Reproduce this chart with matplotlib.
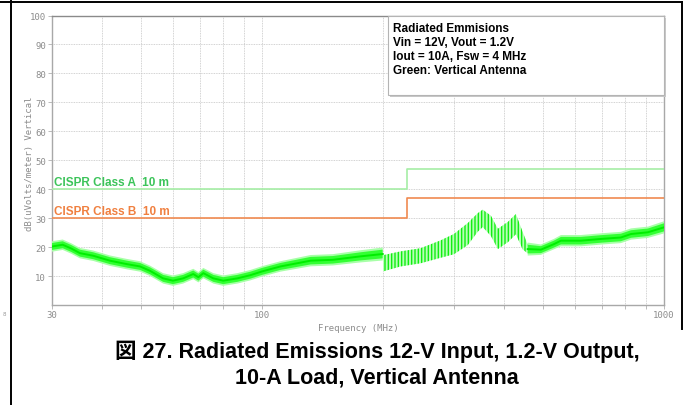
import numpy as np
import matplotlib
matplotlib.use('Agg')
import matplotlib.pyplot as plt
from matplotlib.lines import Line2D
from matplotlib.patches import Rectangle
from matplotlib.ticker import FixedLocator, NullFormatter

# measured trace (MHz, dBuV/m), centre of the noisy band and its half width
freq = [30, 31.9, 33.5, 35.2, 38, 41.8, 46.1, 49.7, 52.6, 56.7, 60, 63.6, 67.4, 69.4,
        71.4, 75.6, 80, 86.8, 93.5, 100, 111, 132, 150, 176, 199.5,
        200, 221, 248, 278, 300, 325, 344, 354, 371, 386, 409, 428, 445, 458,
        494, 532, 554, 621, 697, 781, 828, 912, 1000]
level = [20.3, 20.9, 19.6, 18.0, 17.1, 15.4, 14.2, 13.4, 11.9, 9.3, 8.5, 9.3, 10.8, 9.7,
         11.1, 9.3, 8.5, 9.3, 10.4, 11.7, 13.4, 15.4, 15.7, 16.9, 17.7,
         14.5, 16.0, 17.1, 19.4, 21.1, 24.6, 28.6, 30.0, 27.4, 22.9, 25.3, 28.0, 22.3, 19.4,
         19.2, 21.1, 22.3, 22.3, 22.9, 23.4, 24.6, 25.2, 26.9]
spread = [1.2, 1.2, 1.2, 1.2, 1.2, 1.2, 1.2, 1.2, 1.2, 1.2, 1.2, 1.2, 1.2, 1.2,
          1.2, 1.2, 1.2, 1.2, 1.2, 1.2, 1.2, 1.3, 1.3, 1.4, 1.5,
          2.8, 2.6, 2.6, 3.0, 3.5, 3.8, 3.2, 3.0, 3.5, 3.5, 3.5, 3.5, 3.0, 1.5,
          1.2, 1.2, 1.3, 1.3, 1.3, 1.3, 1.3, 1.3, 1.4]

# CISPR 22 limits at 10 m
lim_freq = [30, 230, 230, 1000]
class_a = [40, 40, 47, 47]
class_b = [30, 30, 37, 37]

y_ticks = [10, 20, 30, 40, 50, 60, 70, 80, 90, 100]
x_major = [30, 100, 1000]
x_minor = [40, 50, 60, 70, 80, 90, 200, 300, 400, 500, 600, 700, 800, 900]

note_lines = ["Radiated Emmisions", "Vin = 12V, Vout = 1.2V",
              "Iout = 10A, Fsw = 4 MHz", "Green: Vertical Antenna"]
caption = ["図 27. Radiated Emissions 12-V Input, 1.2-V Output,",
           "10-A Load, Vertical Antenna"]

W, H = 684, 406
fig = plt.figure(figsize=(6.84, 4.06), dpi=100)


def fx(px):
    return px / W


def fy(py):
    return 1 - py / H


ax = fig.add_axes([fx(52), fy(306.3), fx(664) - fx(52), fy(16.5) - fy(306.3)])
ax.set_xscale('log')
ax.set_xlim(30, 1000)
ax.set_ylim(0, 100)

grey = '#8c8c8c'
mono = 'DejaVu Sans Mono'

ax.xaxis.set_major_locator(FixedLocator(x_major))
ax.xaxis.set_minor_locator(FixedLocator(x_minor))
ax.xaxis.set_minor_formatter(NullFormatter())
ax.set_xticklabels([str(v) for v in x_major], fontsize=6.5, family=mono, color=grey)
ax.set_yticks(y_ticks)
ax.set_yticklabels([str(v) for v in y_ticks], fontsize=6.5, family=mono, color=grey)
ax.tick_params(which='both', direction='out', length=3, width=0.6, color='#b0b0b0', pad=0.5)
ax.tick_params(axis='y', length=3, pad=1.5)

ax.grid(True, which='both', color='#c4c4c4', ls=(0, (1, 1)), lw=0.6)
for s in ax.spines.values():
    s.set_color('#a8a8a8')
    s.set_linewidth(1.0)
ax.spines['top'].set_color('#8a8a8a')

ax.set_xlabel('Frequency (MHz)', fontsize=6.5, family=mono, color=grey)
ax.set_ylabel('dB(uVolts/meter) Vertical', fontsize=6.5, family=mono, color=grey)
ax.xaxis.set_label_coords(0.5, -0.061)
ax.yaxis.set_label_coords(-0.03, 0.49)

ax.plot(lim_freq, class_a, color='#a6eea6', lw=1.2, zorder=3)
ax.plot(lim_freq, class_b, color='#f08a50', lw=1.2, zorder=3)

f = np.array(freq)
lv = np.array(level)
sp = np.array(spread)
osc = (f >= 200) & (f <= 458)
rest = ~osc | (f == 458)
plt.rcParams['hatch.linewidth'] = 1.0
# light fringe, solid core, hatched band where the trace oscillates
ax.fill_between(f, lv - 1.5 * sp, lv + 1.5 * sp, where=rest, color='#a8ffa8', lw=0, zorder=4)
ax.fill_between(f, lv - sp, lv + sp, where=rest, color='#33ff33', lw=0, zorder=4)
ax.fill_between(f, lv - sp, lv + sp, where=osc, facecolor='#b8ffb8', edgecolor='#11ee11',
                hatch='|||||', lw=0, zorder=4)
flat = np.where(osc & (f != 458), np.nan, lv)
ax.plot(f, flat, color='#00ee00', lw=1.4, zorder=5)

ax.text(30.4, 42.5, 'CISPR Class A  10 m', color='#3cc45a', fontsize=8.5,
        fontweight='bold', family='Liberation Sans', va='center')
ax.text(30.4, 32.6, 'CISPR Class B  10 m', color='#f08040', fontsize=8.5,
        fontweight='bold', family='Liberation Sans', va='center')

# annotation box
bx0 = (388 - 52) / 612
by0 = (306.3 - 96) / 289.8
ax.add_patch(Rectangle((bx0 + 0.003, by0 - 0.008), 1 - bx0, 1 - by0, transform=ax.transAxes,
                       facecolor='#c8c8c8', edgecolor='none', zorder=6, clip_on=False))
ax.add_patch(Rectangle((bx0, by0), 1 - bx0, 1 - by0, transform=ax.transAxes,
                       facecolor='white', edgecolor='#b4b4b4', lw=0.8, zorder=7, clip_on=False))
for i, t in enumerate(note_lines):
    fig.text(fx(393), fy(29.5 + 14 * i), t, fontsize=8.5, fontweight='bold',
             family='Liberation Sans', va='center', ha='left', zorder=8)

# page frame
for (x0, y0, x1, y1) in [(0, 3, 682, 3), (11, 0, 11, 406), (682, 3, 682, 330)]:
    fig.add_artist(Line2D([fx(x0), fx(x1)], [fy(y0), fy(y1)], color='black', lw=1.4))
fig.text(fx(3), fy(315), '8', fontsize=4, color='#999999', va='center')

fig.text(fx(377), fy(352), caption[0], fontsize=15.5, fontweight='bold',
         family=['Liberation Sans', 'Noto Sans CJK JP'], ha='center', va='center')
fig.text(fx(377), fy(378), caption[1], fontsize=15.5, fontweight='bold',
         family=['Liberation Sans', 'Noto Sans CJK JP'], ha='center', va='center')

fig.savefig('out.png', dpi=100)
